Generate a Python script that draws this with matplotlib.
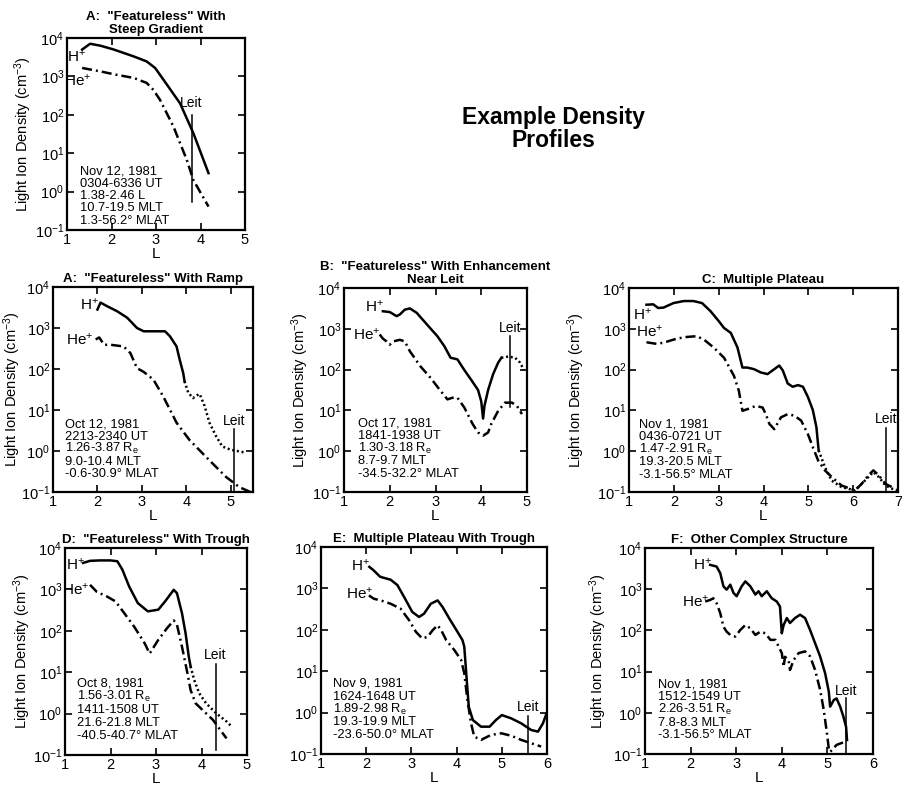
import numpy as np
import matplotlib
matplotlib.use("Agg")
import matplotlib.pyplot as plt
from matplotlib.transforms import offset_copy

plt.rcParams['font.family'] = ['Liberation Sans', 'DejaVu Sans']
plt.rcParams['mathtext.default'] = 'regular'

# ---- data: L values and log10 density (cm^-3) ----
# A: featureless with steep gradient
p1_h_L = [1.34, 1.52, 1.75, 2.05, 2.50, 2.79, 2.98, 3.17, 3.54, 3.84, 4.18]
p1_h_n = [3.70, 3.85, 3.80, 3.70, 3.52, 3.39, 3.22, 2.91, 2.30, 1.52, 0.48]
p1_he_L = [1.34, 1.75, 2.12, 2.50, 2.79, 2.94, 3.09, 3.39, 3.69, 3.84, 4.18]
p1_he_n = [3.22, 3.13, 3.04, 2.96, 2.83, 2.65, 2.39, 1.70, 0.83, 0.30, -0.39]
p1_leit = 3.80

# A: featureless with ramp
p2_h_L = [2.00, 2.07, 2.22, 2.44, 2.67, 2.89, 3.04, 3.33, 3.52, 3.63, 3.78, 3.85, 3.93, 3.96]
p2_h_n = [3.45, 3.62, 3.53, 3.41, 3.25, 3.00, 2.92, 2.92, 2.92, 2.80, 2.55, 2.23, 1.90, 1.70]
p2_hd_L = [3.96, 4.04, 4.15, 4.22, 4.30, 4.41, 4.52, 4.67, 4.81, 5.00, 5.19, 5.33]
p2_hd_n = [1.70, 1.43, 1.29, 1.35, 1.39, 1.10, 0.69, 0.36, 0.11, 0.03, -0.01, -0.04]
p2_he_L = [1.96, 2.04, 2.15, 2.30, 2.59, 2.74, 2.89, 3.04, 3.26, 3.48, 3.78, 4.07, 4.44, 4.89, 5.19, 5.44]
p2_he_n = [2.72, 2.77, 2.59, 2.59, 2.55, 2.39, 2.02, 1.93, 1.74, 1.33, 0.69, 0.27, -0.14, -0.63, -0.88, -1.0]
p2_leit = 5.07

# B: featureless with enhancement near Leit
p3_h_L = [1.85, 2.00, 2.15, 2.22, 2.33, 2.44, 2.59, 2.81, 3.04, 3.19, 3.33, 3.41, 3.48, 3.63,
          3.81, 3.93, 4.00, 4.04, 4.07, 4.15, 4.26, 4.37, 4.44]
p3_h_n = [3.43, 3.41, 3.31, 3.35, 3.47, 3.50, 3.39, 3.11, 2.82, 2.58, 2.29, 2.27, 2.25, 1.99,
          1.70, 1.50, 1.22, 0.80, 1.11, 1.50, 1.89, 2.17, 2.29]
p3_hd_L = [4.44, 4.59, 4.74, 4.85, 4.93]
p3_hd_n = [2.29, 2.32, 2.29, 2.17, 1.99]
p3_he_L = [1.78, 1.85, 1.93, 2.00, 2.07, 2.22, 2.33, 2.44, 2.67, 2.89, 3.11, 3.26, 3.37, 3.48,
           3.63, 3.81, 3.93, 4.04, 4.15, 4.22, 4.37, 4.52, 4.67, 4.78, 4.89]
p3_he_n = [2.86, 2.76, 2.69, 2.61, 2.69, 2.73, 2.69, 2.45, 2.08, 1.80, 1.48, 1.27, 1.31, 1.31,
           1.07, 0.67, 0.46, 0.38, 0.46, 0.67, 0.99, 1.19, 1.19, 1.11, 0.91]
p3_leit = 4.63

# C: multiple plateau
p4_h_L = [1.39, 1.54, 1.65, 1.77, 1.99, 2.22, 2.44, 2.63, 2.82, 3.00, 3.12, 3.27, 3.42, 3.53,
          3.64, 3.79, 3.94, 4.09, 4.24, 4.35, 4.43, 4.54, 4.65, 4.77, 4.88, 4.99, 5.10, 5.18, 5.23]
p4_h_n = [3.59, 3.60, 3.51, 3.52, 3.63, 3.68, 3.68, 3.63, 3.43, 3.19, 3.02, 2.90, 2.54, 2.05,
          2.05, 2.01, 1.93, 1.89, 2.01, 2.10, 1.98, 1.66, 1.58, 1.62, 1.58, 1.33, 1.01, 0.59, 0.02]
p4_hd_L = [5.23, 5.37, 5.52, 5.74, 6.04, 6.19, 6.34, 6.45, 6.57, 6.72, 6.87, 7.00]
p4_hd_n = [0.02, -0.39, -0.72, -0.88, -0.96, -0.80, -0.63, -0.51, -0.63, -0.84, -0.92, -0.96]
p4_he_L = [1.39, 1.62, 1.77, 2.07, 2.29, 2.52, 2.70, 2.89, 3.12, 3.34, 3.45, 3.53, 3.64, 3.83,
           3.98, 4.05, 4.13, 4.24, 4.39, 4.54, 4.69, 4.84, 4.99, 5.10, 5.22, 5.37, 5.52, 5.74,
           6.04, 6.19, 6.34, 6.45, 6.57, 6.72, 6.94]
p4_he_n = [2.67, 2.63, 2.66, 2.76, 2.80, 2.82, 2.71, 2.54, 2.29, 1.85, 1.48, 0.99, 1.03, 1.11,
           1.07, 0.91, 0.67, 0.54, 0.83, 0.91, 0.87, 0.75, 0.42, 0.10, -0.23, -0.47, -0.63, -0.84,
           -0.96, -0.80, -0.59, -0.47, -0.59, -0.80, -0.92]
p4_leit = 6.73

# D: featureless with trough
p5_h_L = [1.40, 1.55, 1.77, 2.00, 2.15, 2.26, 2.41, 2.60, 2.82, 3.05, 3.20, 3.39, 3.46, 3.57,
          3.65, 3.72, 3.76]
p5_h_n = [3.64, 3.69, 3.70, 3.70, 3.68, 3.48, 3.07, 2.67, 2.47, 2.51, 2.71, 2.99, 2.91, 2.43,
          1.94, 1.38, 1.14]
p5_hd_L = [3.76, 3.84, 3.95, 4.10, 4.32, 4.55, 4.66]
p5_hd_n = [1.14, 0.81, 0.49, 0.25, 0.01, -0.19, -0.31]
p5_he_L = [1.55, 1.70, 1.92, 2.11, 2.30, 2.52, 2.75, 2.86, 3.05, 3.24, 3.39, 3.46, 3.57, 3.69,
           3.76, 3.87, 4.02, 4.25, 4.55]
p5_he_n = [3.11, 2.94, 2.83, 2.71, 2.43, 2.10, 1.70, 1.45, 1.78, 2.06, 2.25, 2.15, 1.62, 0.98,
           0.57, 0.25, 0.09, -0.15, -0.60]
p5_leit = 4.31

# E: multiple plateau with trough
p6_h_L = [2.07, 2.16, 2.31, 2.54, 2.69, 2.84, 3.02, 3.17, 3.28, 3.43, 3.58, 3.69, 3.84, 4.02,
          4.13, 4.17, 4.23, 4.27, 4.36, 4.54, 4.73, 4.87, 5.00, 5.21, 5.43, 5.65, 5.80, 5.91, 5.99]
p6_h_n = [3.52, 3.44, 3.28, 3.21, 3.08, 2.79, 2.43, 2.31, 2.39, 2.63, 2.71, 2.55, 2.27, 1.95,
          1.75, 1.59, 0.70, 0.14, -0.18, -0.34, -0.34, -0.18, -0.06, -0.14, -0.26, -0.42, -0.46,
          -0.26, -0.02]
p6_he_L = [2.06, 2.17, 2.32, 2.54, 2.76, 2.95, 3.10, 3.24, 3.36, 3.47, 3.58, 3.66, 3.77, 3.95,
           4.10, 4.17, 4.24, 4.32, 4.39, 4.54, 4.76, 4.99, 5.21, 5.43, 5.65, 5.87]
p6_he_n = [2.83, 2.75, 2.71, 2.63, 2.51, 2.23, 1.95, 1.79, 1.83, 1.99, 2.11, 1.99, 1.75, 1.51,
           1.27, 0.95, 0.30, -0.26, -0.58, -0.66, -0.54, -0.50, -0.56, -0.66, -0.74, -0.82]
p6_leit = 5.58

# F: other complex structure
p7_h_L = [2.43, 2.57, 2.65, 2.72, 2.79, 2.87, 2.94, 3.01, 3.12, 3.20, 3.31, 3.42, 3.49, 3.56,
          3.67, 3.78, 3.89, 3.96, 4.00, 4.04, 4.11, 4.18, 4.29, 4.40, 4.51, 4.62, 4.73, 4.84,
          4.95, 5.03, 5.06, 5.14, 5.20, 5.28, 5.35, 5.41, 5.43]
p7_h_n = [3.59, 3.55, 3.39, 3.07, 2.99, 3.11, 2.91, 2.83, 3.07, 3.19, 3.07, 2.87, 2.95, 2.83,
          2.95, 2.78, 2.70, 2.58, 1.93, 2.13, 2.30, 2.18, 2.30, 2.38, 2.30, 2.01, 1.69, 1.37,
          0.96, 0.52, 0.15, 0.31, 0.35, 0.15, -0.09, -0.34, -0.66]
p7_he_L = [2.32, 2.43, 2.50, 2.57, 2.65, 2.72, 2.79, 2.87, 2.98, 3.09, 3.20, 3.31, 3.42, 3.53,
           3.64, 3.75, 3.86, 3.93, 4.00, 4.04, 4.07, 4.15, 4.18, 4.26, 4.37, 4.51, 4.62, 4.73,
           4.84, 4.92, 4.99, 5.03, 5.06, 5.20, 5.39]
p7_he_n = [2.70, 2.74, 2.78, 2.66, 2.42, 2.09, 1.97, 1.89, 1.85, 2.01, 2.13, 2.05, 1.89, 1.97,
           1.93, 1.77, 1.77, 1.61, 1.45, 1.12, 1.36, 1.28, 1.04, 1.28, 1.45, 1.49, 1.37, 1.04,
           0.56, 0.07, -0.50, -0.86, -0.95, -0.78, -0.70]
p7_leit = 5.41

titles = [['A:  "Featureless" With', 'Steep Gradient'],
          ['A:  "Featureless" With Ramp'],
          ['B:  "Featureless" With Enhancement', 'Near Leit'],
          ['C:  Multiple Plateau'],
          ['D:  "Featureless" With Trough'],
          ['E:  Multiple Plateau With Trough'],
          ['F:  Other Complex Structure']]

infos = [['Nov 12, 1981', '0304-6336 UT', '1.38-2.46 L', '10.7-19.5 MLT', '1.3-56.2° MLAT'],
         ['Oct 12, 1981', '2213-2340 UT', '1.26-3.87 R$_e$', '9.0-10.4 MLT', '-0.6-30.9° MLAT'],
         ['Oct 17, 1981', '1841-1938 UT', '1.30-3.18 R$_e$', '8.7-9.7 MLT', '-34.5-32.2° MLAT'],
         ['Nov 1, 1981', '0436-0721 UT', '1.47-2.91 R$_e$', '19.3-20.5 MLT', '-3.1-56.5° MLAT'],
         ['Oct 8, 1981', '1.56-3.01 R$_e$', '1411-1508 UT', '21.6-21.8 MLT', '-40.5-40.7° MLAT'],
         ['Nov 9, 1981', '1624-1648 UT', '1.89-2.98 R$_e$', '19.3-19.9 MLT', '-23.6-50.0° MLAT'],
         ['Nov 1, 1981', '1512-1549 UT', '2.26-3.51 R$_e$', '7.8-8.3 MLT', '-3.1-56.5° MLAT']]

W, H = 902, 787
fig = plt.figure(figsize=(W / 100, H / 100), dpi=100)


def make_ax(x0, x1, y0, y1):
    return fig.add_axes([x0 / W, 1 - y1 / H, (x1 - x0) / W, (y1 - y0) / H])


solid = dict(color='black', lw=1.8, ls='-')
dashdot = dict(color='black', lw=1.8, ls=(0, (4, 1.6, 0.8, 1.6)))
dotted = dict(color='black', lw=1.8, ls=(0, (0.8, 1.1)))


def panel(ax, xmax, title, info, info_xy, step, leit, leit_lo, leit_hi, leit_txt,
          hlab, helab, ylab_x=None, xlab=True):
    ax.set_yscale('log')
    ax.set_ylim(0.1, 1e4)
    ax.set_xlim(1, xmax)
    ax.set_xticks(range(1, int(xmax) + 1))
    ax.set_yticks([0.1, 1, 10, 100, 1000, 1e4])
    ax.set_yticklabels(['10$^{-1}$', '10$^{0}$', '10$^{1}$', '10$^{2}$', '10$^{3}$', '10$^{4}$'])
    ax.minorticks_off()
    ax.tick_params(direction='in', top=True, right=True, labelsize=10.5,
                   length=5, width=1.2, pad=2)
    for s in ax.spines.values():
        s.set_linewidth(1.6)
    if ylab_x is not None:
        ax.set_ylabel('Light Ion Density (cm$^{-3}$)', fontsize=10.5)
        ax.yaxis.set_label_coords(ylab_x, 0.5)
    if xlab:
        ax.set_xlabel('L', fontsize=11, labelpad=0)
    # title lines, stacked upward from the axes top
    for i, line in enumerate(reversed(title)):
        tr = offset_copy(ax.transAxes, fig=fig, y=5 + 13.5 * i, units='dots')
        ax.text(0.5, 1.0, line, transform=tr, fontsize=9.5, fontweight='bold',
                ha='center', va='baseline')
    # info block, one line at a time at a fixed pixel step
    hpx = ax.get_position().height * H
    for i, line in enumerate(info):
        ax.text(info_xy[0], info_xy[1] - i * step / hpx, line, transform=ax.transAxes,
                fontsize=9.3, va='baseline', ha='left')
    ax.plot([leit, leit], [leit_lo, leit_hi], color='black', lw=1.1)
    ax.text(leit, leit_txt, 'Leit', fontsize=10, ha='center', va='bottom')
    ax.text(hlab[0], hlab[1], 'H$^{+}$', fontsize=11, ha='center', va='center')
    ax.text(helab[0], helab[1], 'He$^{+}$', fontsize=11, ha='center', va='center')


def p10(v):
    return np.power(10.0, v)


# top panel
ax = make_ax(67, 245, 38, 230)
ax.plot(p1_h_L, p10(p1_h_n), **solid)
ax.plot(p1_he_L, p10(p1_he_n), **dashdot)
panel(ax, 5, titles[0], infos[0], (0.073, 0.29), 12.3, p1_leit, 0.55, 100, 130,
      (1.22, 3300), (1.24, 800), ylab_x=-0.185)

# row 2
ax = make_ax(53, 253, 287, 492)
ax.plot(p2_h_L, p10(p2_h_n), **solid)
ax.plot(p2_hd_L, p10(p2_hd_n), **dotted)
ax.plot(p2_he_L, p10(p2_he_n), **dashdot)
panel(ax, 5.5, titles[1], infos[1], (0.06, 0.317), 12.5, p2_leit, 0.1, 3.5, 3.7,
      (1.82, 3700), (1.6, 520), ylab_x=-0.15)

ax = make_ax(344, 527, 288, 492)
ax.plot(p3_h_L, p10(p3_h_n), **solid)
ax.plot(p3_hd_L, p10(p3_hd_n), **dotted)
ax.plot(p3_he_L, p10(p3_he_n), **dashdot)
panel(ax, 5, titles[2], infos[2], (0.077, 0.319), 12.5, p3_leit, 12, 660, 700,
      (1.67, 3500), (1.5, 720), ylab_x=-0.18)

ax = make_ax(629, 898, 288, 492)
ax.plot(p4_h_L, p10(p4_h_n), **solid)
ax.plot(p4_hd_L, p10(p4_hd_n), **dotted)
ax.plot(p4_he_L, p10(p4_he_n), **dashdot)
panel(ax, 7, titles[3], infos[3], (0.037, 0.314), 12.5, p4_leit, 0.1, 3.7, 4.2,
      (1.3, 2200), (1.45, 870), ylab_x=-0.156)

# row 3
ax = make_ax(65, 247, 548, 755)
ax.plot(p5_h_L, p10(p5_h_n), **solid)
ax.plot(p5_hd_L, p10(p5_hd_n), **dotted)
ax.plot(p5_he_L, p10(p5_he_n), **dashdot)
panel(ax, 5, titles[4], infos[4], (0.066, 0.33), 13.2, p5_leit, 0.13, 16, 18,
      (1.22, 4000), (1.23, 980), ylab_x=-0.176)

ax = make_ax(321, 547, 547, 754)
ax.plot(p6_h_L, p10(p6_h_n), **solid)
ax.plot(p6_he_L, p10(p6_he_n), **dashdot)
panel(ax, 6, titles[5], infos[5], (0.053, 0.324), 12.8, p6_leit, 0.1, 0.85, 0.95,
      (1.88, 3600), (1.85, 740))

ax = make_ax(645, 873, 548, 754)
ax.plot(p7_h_L, p10(p7_h_n), **solid)
ax.plot(p7_he_L, p10(p7_he_n), **dashdot)
panel(ax, 6, titles[6], infos[6], (0.057, 0.324), 12.8, p7_leit, 0.1, 2.3, 2.3,
      (2.25, 3900), (2.11, 500), ylab_x=-0.158)

fig.text(553 / W, 1 - 129 / H, 'Example Density\nProfiles', fontsize=16.5, fontweight='bold',
         ha='center', va='center', linespacing=1.0)

fig.savefig('out.png', dpi=100)
